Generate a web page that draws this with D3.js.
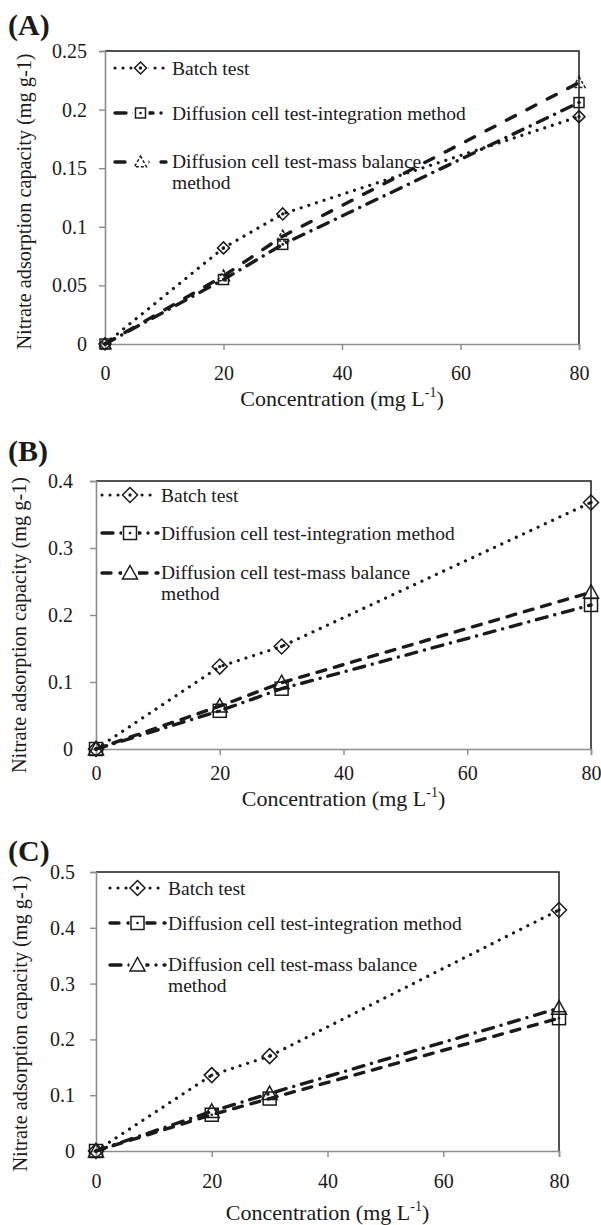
<!DOCTYPE html>
<html>
<head>
<meta charset="utf-8">
<script src="https://cdn.jsdelivr.net/npm/d3@7/dist/d3.min.js"></script>
<style>
  html, body { margin: 0; padding: 0; background: #fff; }
  svg { display: block; }
  text { font-family: "Liberation Serif", "Times New Roman", serif; fill: #1a1a1a; }
</style>
</head>
<body>
<svg id="chart" width="601" height="1225"></svg>
<script>
// ---- data ----
const concentrations = [0, 20, 30, 80];
const xTicks = [0, 20, 40, 60, 80];
const seriesNames = ["Batch test", "Diffusion cell test-integration method", "Diffusion cell test-mass balance method"];

const batchA = [0, 0.082, 0.111, 0.194];
const integA = [0, 0.055, 0.085, 0.206];
const massA  = [0, 0.058, 0.092, 0.223];
const yTicksA = [0, 0.05, 0.1, 0.15, 0.2, 0.25];

const batchB = [0, 0.123, 0.153, 0.368];
const integB = [0, 0.057, 0.090, 0.215];
const massB  = [0, 0.064, 0.099, 0.234];
const yTicksB = [0, 0.1, 0.2, 0.3, 0.4];

const batchC = [0, 0.136, 0.170, 0.432];
const integC = [0, 0.065, 0.094, 0.238];
const massC  = [0, 0.071, 0.103, 0.256];
const yTicksC = [0, 0.1, 0.2, 0.3, 0.4, 0.5];

const yTitle = "Nitrate adsorption capacity (mg g-1)";
const xTitle = "Concentration (mg L";

// ---- layout ----
const panels = [
  { label: "(A)", labelY: 35, left: 105, right: 579, top: 51, bottom: 344, yMax: 0.25, yTicks: yTicksA,
    series: [batchA, integA, massA], styles: ["dot", "dashdot", "dash"], dashGap: [13, 10],
    yTitleX: 24, yTitleOff: 4, yPad: 12, xLabY: 380, xTitleY: 406,
    leg: { x0: 115, x1: 166, tx: 172, rows: [68, 113, 162] }, mk: 10, triDash: true },
  { label: "(B)", labelY: 461, left: 96, right: 591, top: 481, bottom: 749, yMax: 0.4, yTicks: yTicksB,
    series: [batchB, integB, massB], styles: ["dot", "dashdot", "dash"], dashGap: [12, 6],
    yTitleX: 19, yTitleOff: 10, yPad: 17, xLabY: 780, xTitleY: 806,
    leg: { x0: 102, x1: 158, tx: 161, rows: [495, 533, 573] }, mk: 13, triDash: false },
  { label: "(C)", labelY: 861, left: 96, right: 559, top: 872, bottom: 1151, yMax: 0.5, yTicks: yTicksC,
    series: [batchC, integC, massC], styles: ["dot", "dash", "dashdot"], dashGap: [12, 6],
    yTitleX: 20, yTitleOff: 12, yPad: 15, xLabY: 1188, xTitleY: 1220,
    leg: { x0: 110, x1: 165, tx: 168, rows: [888, 923, 965] }, mk: 13, triDash: false }
];

const svg = d3.select("#chart");
const axisGray = "#8c8c8c";
const dark = "#1a1a1a";
const tickFmt = d => d === 0 ? "0" : String(d);

function styleLine(sel, kind, dashGap) {
  sel.attr("fill", "none").attr("stroke", dark);
  if (kind === "dot") {
    sel.attr("stroke-width", 3.2).attr("stroke-linecap", "round").attr("stroke-dasharray", "0.01 8");
  } else if (kind === "dash") {
    sel.attr("stroke-width", 3.4).attr("stroke-linecap", "round")
       .attr("stroke-dasharray", (dashGap[0] - 3) + " " + (dashGap[1] + 3));
  } else {
    sel.attr("stroke-width", 3.4).attr("stroke-linecap", "round")
       .attr("stroke-dasharray", "11 8 0.01 8");
  }
}

function drawMarker(g, type, x, y, size, dashed) {
  const h = size / 2;
  if (type === 0) {
    const d = h + 1.5;
    g.append("path").attr("d", `M${x},${y - d}L${x + d},${y}L${x},${y + d}L${x - d},${y}Z`)
      .attr("fill", "none").attr("stroke", dark).attr("stroke-width", 1.5);
    g.append("circle").attr("cx", x).attr("cy", y).attr("r", 1.7).attr("fill", dark);
  } else if (type === 1) {
    g.append("rect").attr("x", x - h).attr("y", y - h).attr("width", size).attr("height", size)
      .attr("fill", "none").attr("stroke", dark).attr("stroke-width", 1.5);
    g.append("circle").attr("cx", x).attr("cy", y).attr("r", 1.3).attr("fill", dark);
  } else {
    const t = h + 1;
    const p = g.append("path").attr("d", `M${x},${y - t}L${x + t},${y + t * 0.8}L${x - t},${y + t * 0.8}Z`)
      .attr("fill", "none").attr("stroke", dark).attr("stroke-width", 1.5);
    if (dashed) p.attr("stroke-dasharray", "3 2");
  }
}

panels.forEach(p => {
  const x = d3.scaleLinear().domain([0, 80]).range([p.left, p.right]);
  const y = d3.scaleLinear().domain([0, p.yMax]).range([p.bottom, p.top]);
  const g = svg.append("g");

  // top & right border
  g.append("path").attr("d", `M${p.left},${p.top}H${p.right}V${p.bottom}`)
    .attr("fill", "none").attr("stroke", dark).attr("stroke-width", 1.5);

  // left axis
  const ya = d3.axisLeft(y).tickValues(p.yTicks).tickSize(6).tickPadding(p.yPad).tickFormat(tickFmt);
  const yg = g.append("g").attr("transform", `translate(${p.left},0)`).call(ya);
  yg.select(".domain").attr("stroke", axisGray).attr("stroke-width", 1.6);
  yg.selectAll(".tick line").attr("stroke", axisGray).attr("stroke-width", 1.4);
  yg.selectAll(".tick text").attr("font-size", 20).attr("fill", dark)
    .attr("font-family", '"Liberation Serif", serif');

  // bottom axis
  const xa = d3.axisBottom(x).tickValues(xTicks).tickSize(6).tickFormat(d3.format("d"));
  const xg = g.append("g").attr("transform", `translate(0,${p.bottom})`).call(xa);
  xg.select(".domain").attr("stroke", axisGray).attr("stroke-width", 1.6);
  xg.selectAll(".tick line").attr("stroke", axisGray).attr("stroke-width", 1.4);
  xg.selectAll(".tick text").attr("font-size", 20).attr("fill", dark)
    .attr("font-family", '"Liberation Serif", serif')
    .attr("y", null).attr("dy", null)
    .attr("transform", `translate(0,${p.xLabY - p.bottom})`);

  // series lines
  const line = d3.line().x((d, i) => x(concentrations[i])).y(d => y(d));
  p.series.forEach((s, si) => {
    g.append("path").datum(s).attr("d", line).call(styleLine, p.styles[si], p.dashGap);
  });
  // markers
  p.series.forEach((s, si) => {
    s.forEach((v, i) => drawMarker(g, si, x(concentrations[i]), y(v), si === 0 ? p.mk - 1 : p.mk, si === 2 && p.triDash));
  });

  // legend
  p.leg.rows.forEach((ry, si) => {
    g.append("path").attr("d", `M${p.leg.x0},${ry}H${p.leg.x1}`).call(styleLine, p.styles[si], p.dashGap);
    const mx = (p.leg.x0 + p.leg.x1) / 2;
    g.append("rect").attr("x", mx - 8).attr("y", ry - 8).attr("width", 16).attr("height", 16).attr("fill", "#fff");
    drawMarker(g, si, mx, ry, si === 0 ? p.mk - 1 : p.mk, si === 2 && p.triDash);
    if (si < 2) {
      g.append("text").attr("x", p.leg.tx).attr("y", ry + 6.5).attr("font-size", 19.5).text(seriesNames[si]);
    } else {
      const words = seriesNames[si].split(" ");
      g.append("text").attr("x", p.leg.tx).attr("y", ry + 6).attr("font-size", 19.5).text(words.slice(0, -1).join(" "));
      g.append("text").attr("x", p.leg.tx).attr("y", ry + 27).attr("font-size", 19.5).text(words[words.length - 1]);
    }
  });

  // panel label
  g.append("text").attr("x", 8).attr("y", p.labelY).attr("font-size", 30).attr("font-weight", "bold").text(p.label);

  // y title
  g.append("text").attr("transform", `translate(${p.yTitleX},${(p.top + p.bottom) / 2 + p.yTitleOff}) rotate(-90)`)
    .attr("text-anchor", "middle").attr("dy", "0.35em").attr("font-size", 20.3).text(yTitle);

  // x title
  const xt = g.append("text").attr("x", (p.left + p.right) / 2).attr("y", p.xTitleY)
    .attr("text-anchor", "middle").attr("font-size", 22);
  xt.append("tspan").text(xTitle);
  xt.append("tspan").attr("font-size", 14).attr("dy", -9).text("-1");
  xt.append("tspan").attr("dy", 9).text(")");
});
</script>
</body>
</html>
